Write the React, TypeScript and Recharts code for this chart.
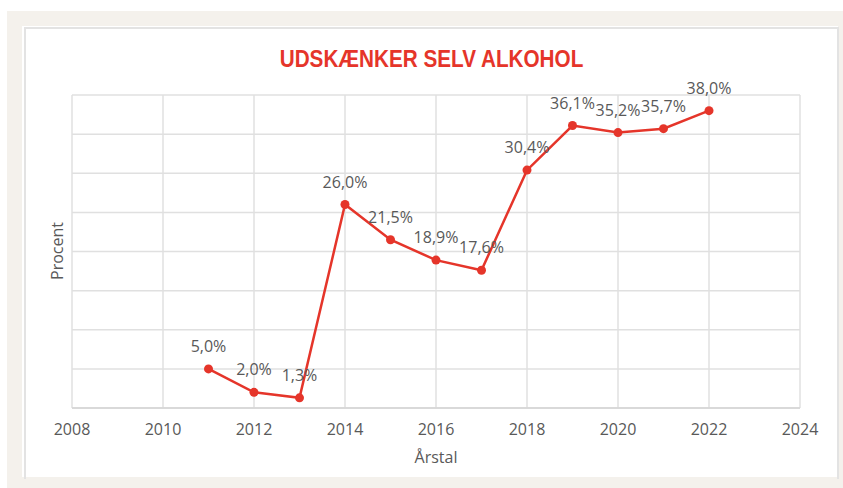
import { LineChart, Line, XAxis, YAxis, CartesianGrid, LabelList, Label } from 'recharts'

const years = [2011, 2012, 2013, 2014, 2015, 2016, 2017, 2018, 2019, 2020, 2021, 2022]
const shares = [5.0, 2.0, 1.3, 26.0, 21.5, 18.9, 17.6, 30.4, 36.1, 35.2, 35.7, 38.0]
const yearTicks = [2008, 2010, 2012, 2014, 2016, 2018, 2020, 2022, 2024]
const pctTicks = [0, 5, 10, 15, 20, 25, 30, 35, 40]

const data = years.map((year, i) => ({ year, value: shares[i] }))

const RED = '#e5352a'
const TEXT = '#595959'
const FONT = '"Open Sans", sans-serif'

const fmt = (v: number) => v.toFixed(1).replace('.', ',') + '%'

export default function App() {
  return (
    <div style={{ position: 'absolute', left: 0, top: 0, width: 843, height: 488, background: '#fff' }}>
      <div style={{ position: 'absolute', left: 7, top: 11, width: 836, height: 477, background: '#f4f1ec' }} />
      <div style={{ position: 'absolute', left: 22, top: 26, width: 816, height: 451, background: '#fff' }} />
      <div
        style={{
          position: 'absolute', left: 24, top: 27, width: 811, height: 450,
          borderLeft: '2px solid #e3e3e3', borderTop: '2px solid #e3e3e3', borderRight: '2px solid #e3e3e3',
        }}
      />
      <div
        style={{
          position: 'absolute', left: 0, top: 46, width: 863, textAlign: 'center',
          fontFamily: '"Liberation Sans", sans-serif',
          fontWeight: 700, fontSize: 23, color: RED,
          transform: 'scaleX(0.9)', transformOrigin: '431.5px 0',
        }}
      >
        UDSKÆNKER SELV ALKOHOL
      </div>
      <div
        style={{
          position: 'absolute', left: 57, top: 251, width: 0, height: 0,
        }}
      >
        <div
          style={{
            position: 'absolute', left: -50, top: -11, width: 100, lineHeight: '22px', textAlign: 'center',
            transform: 'rotate(-90deg)', fontFamily: FONT, fontSize: 16, color: TEXT,
          }}
        >
          Procent
        </div>
      </div>
      <div style={{ position: 'absolute', left: 0, top: 0 }}>
        <LineChart width={843} height={488} data={data} margin={{ top: 95, right: 43, left: 72, bottom: 50 }}>
          <CartesianGrid stroke="#e0e0e0" strokeWidth={1.5} />
          <XAxis
            dataKey="year"
            type="number"
            domain={[2008, 2024]}
            ticks={yearTicks}
            height={30}
            tickLine={false}
            axisLine={{ stroke: '#d4d4d4', strokeWidth: 1.5 }}
            tickMargin={10}
            tick={{ fontSize: 16, fill: TEXT, fontFamily: FONT }}
          >
            <Label value="Årstal" position="bottom" offset={14} style={{ fontSize: 16, fill: TEXT, fontFamily: FONT }} />
          </XAxis>
          <YAxis
            domain={[0, 40]}
            ticks={pctTicks}
            width={0}
            tick={() => <g />}
            tickLine={false}
            axisLine={false}
          />
          <Line
            type="linear"
            dataKey="value"
            stroke={RED}
            strokeWidth={2.5}
            dot={{ r: 4.5, fill: RED, stroke: RED, strokeWidth: 0 }}
            isAnimationActive={false}
          >
            <LabelList
              dataKey="value"
              position="top"
              offset={17}
              formatter={(v: any) => fmt(Number(v))}
              style={{ fontSize: 16, fill: TEXT, fontFamily: FONT }}
            />
          </Line>
        </LineChart>
      </div>
    </div>
  )
}
